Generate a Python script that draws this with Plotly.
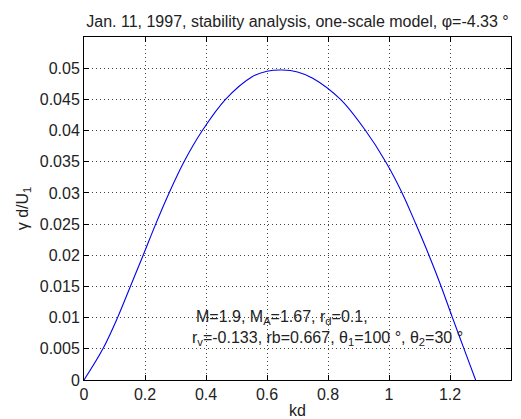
import plotly.graph_objects as go

kd = [0.0, 0.062, 0.11, 0.152, 0.194, 0.235, 0.279, 0.328, 0.388, 0.464,
      0.55, 0.6, 0.65, 0.7, 0.75, 0.841, 0.923, 0.989, 1.043, 1.088, 1.131,
      1.171, 1.208, 1.246, 1.284]
gamma = [0.0, 0.005, 0.01, 0.015, 0.02, 0.025, 0.03, 0.035, 0.04, 0.045,
         0.0486, 0.0495, 0.0497, 0.0494, 0.0484, 0.045, 0.04, 0.035, 0.03,
         0.025, 0.02, 0.015, 0.01, 0.005, 0.0]

x_ticks = [0, 0.2, 0.4, 0.6, 0.8, 1.0, 1.2, 1.4]
x_labels = ["0", "0.2", "0.4", "0.6", "0.8", "1", "1.2", "1.4"]
y_ticks = [0, 0.005, 0.01, 0.015, 0.02, 0.025, 0.03, 0.035, 0.04, 0.045, 0.05]
y_labels = ["0", "0.005", "0.01", "0.015", "0.02", "0.025", "0.03", "0.035",
            "0.04", "0.045", "0.05"]

title_text = "Jan. 11, 1997, stability analysis, one-scale model, φ=-4.33 °"
note_line1 = "M=1.9, M<sub>A</sub>=1.67, r<sub>d</sub>=0.1,"
note_line2 = "r<sub>v</sub>=-0.133, rb=0.667, θ<sub>1</sub>=100 °, θ<sub>2</sub>=30 °"

FONT = "Liberation Sans, Arial, sans-serif"
FS = 16
TXT = "#222222"

fig = go.Figure()
fig.add_trace(go.Scatter(x=kd, y=gamma, mode="lines",
                         line=dict(color="#0000ee", width=1.1, shape="spline",
                                   smoothing=1.0),
                         showlegend=False, hoverinfo="skip"))

axis_common = dict(
    showline=True, linecolor="black", linewidth=1, mirror="ticks",
    ticks="inside", ticklen=5, tickcolor="black", tickwidth=1,
    showgrid=True, gridcolor="#444444", gridwidth=1, griddash="1px,3px",
    zeroline=False, tickfont=dict(family=FONT, size=FS, color=TXT),
)

fig.update_layout(
    width=521, height=419,
    margin=dict(l=84, r=10, t=37, b=39, autoexpand=False),
    paper_bgcolor="white", plot_bgcolor="white",
    font=dict(family=FONT, size=FS, color=TXT),
    title=dict(text=title_text, x=(84 + 511) / 2 / 521, xanchor="center",
               y=1 - 21 / 419, yanchor="middle",
               font=dict(family=FONT, size=FS, color=TXT)),
    xaxis=dict(range=[0, 1.4], tickvals=x_ticks, ticktext=x_labels,
               title=dict(text="kd", standoff=5,
                          font=dict(family=FONT, size=FS, color=TXT)),
               **axis_common),
    yaxis=dict(range=[0, 0.055], tickvals=y_ticks, ticktext=y_labels,
               title=dict(text="γ d/U<sub>1</sub>", standoff=7,
                          font=dict(family=FONT, size=FS, color=TXT)),
               **axis_common),
)

fig.add_annotation(x=0.361, y=0.0101, xref="x", yref="y", text=note_line1,
                   showarrow=False, xanchor="left", yanchor="middle",
                   font=dict(family=FONT, size=FS, color=TXT))
fig.add_annotation(x=0.349, y=0.0066, xref="x", yref="y", text=note_line2,
                   showarrow=False, xanchor="left", yanchor="middle",
                   font=dict(family=FONT, size=FS, color=TXT))

fig.write_html("out.html", config={"displayModeBar": False},
               post_script="document.body.style.margin='0';")
